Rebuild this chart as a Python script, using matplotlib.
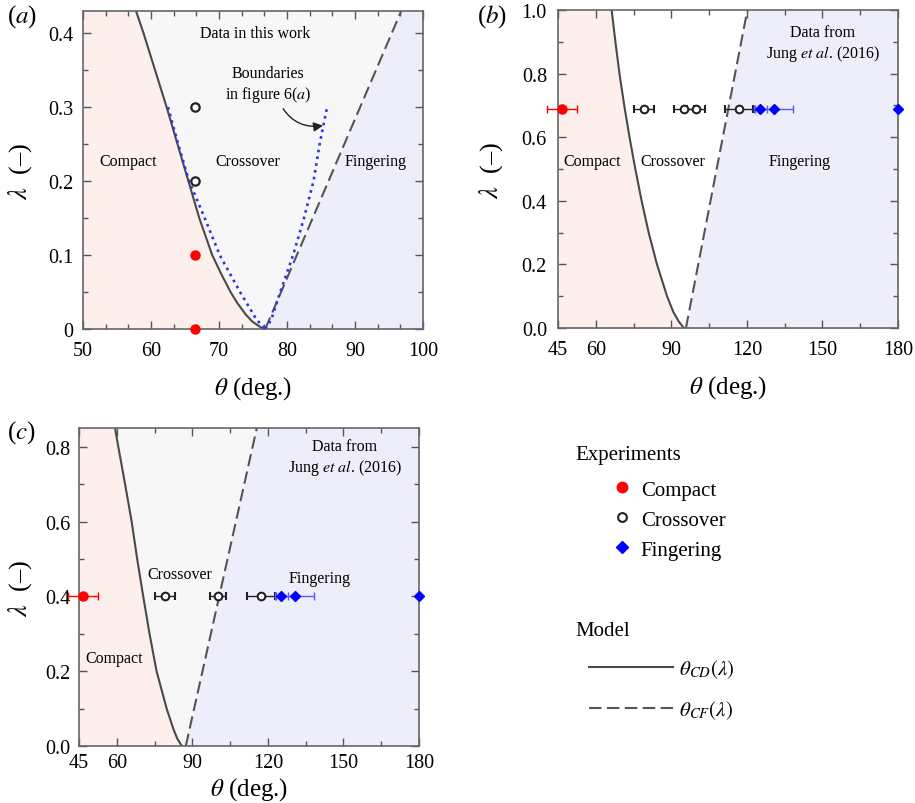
import numpy as np
import matplotlib
matplotlib.use('Agg')
import matplotlib.pyplot as plt
from matplotlib.ticker import MultipleLocator, FixedLocator, FuncFormatter, FormatStrFormatter

plt.rcParams['font.family'] = ['Liberation Serif', 'DejaVu Serif']
plt.rcParams['mathtext.fontset'] = 'stix'

# ---------------- data ----------------
# panel (a): model boundaries (lambda, theta)
a_cd_lam = [0.0, 0.01, 0.02, 0.035, 0.05, 0.075, 0.1, 0.15, 0.2, 0.25, 0.3, 0.35, 0.4, 0.43]
a_cd_theta = [76.5, 74.9, 73.9, 72.7, 71.7, 70.3, 69.0, 67.1, 65.5, 63.9, 62.3, 60.6, 58.9, 57.8]
a_cf_lam = [0.0, 0.43]
a_cf_theta = [76.8, 96.8]
# boundaries in figure 6(a)
a_f6l_lam = [0.3, 0.25, 0.2, 0.15, 0.1, 0.05, 0.013, 0.0]
a_f6l_theta = [62.5, 64.0, 65.6, 67.9, 70.1, 73.1, 75.5, 76.8]
a_f6r_lam = [0.0, 0.013, 0.05, 0.1, 0.15, 0.2, 0.25, 0.3]
a_f6r_theta = [76.8, 77.7, 79.0, 80.9, 82.5, 83.9, 84.8, 85.9]
# panel (a): experiments
a_compact_theta = [66.5, 66.5]
a_compact_lam = [0.0, 0.1]
a_cross_theta = [66.5, 66.5]
a_cross_lam = [0.2, 0.3]

# panel (b): model
b_cd_lam = [0.0, 0.02, 0.05, 0.1, 0.15, 0.2, 0.3, 0.4, 0.5, 0.6, 0.7, 0.8, 0.9, 1.0]
b_cd_theta = [95.0, 93.0, 90.8, 88.3, 86.3, 84.3, 81.0, 78.2, 75.7, 73.4, 71.3, 69.4, 67.8, 66.3]
b_cf_lam = [0.0, 1.0]
b_cf_theta = [95.8, 120.2]
# panel (b): Jung et al. (2016), lambda = 0.69
b_lam = 0.69
b_compact_theta = [46.7]
b_compact_err = [6.0]
b_cross_theta = [79.1, 95.0, 99.8, 117.0]
b_cross_err = [4.0, 4.0, 3.5, 5.5]
b_fing_theta = [125.3, 130.8, 180.0]
b_fing_err = [2.5, 7.7, 0.0]

# panel (c): model
c_cd_lam = [0.0, 0.02, 0.045, 0.1, 0.2, 0.3, 0.4, 0.5, 0.6, 0.7, 0.8, 0.85]
c_cd_theta = [85.8, 84.0, 82.5, 79.8, 75.8, 73.0, 70.5, 68.1, 65.9, 63.3, 60.6, 59.3]
c_cf_lam = [0.0, 0.85]
c_cf_theta = [87.4, 115.6]
# panel (c): Jung et al. (2016), lambda = 0.40
c_lam = 0.40
c_compact_theta = [46.7]
c_compact_err = [6.0]
c_cross_theta = [79.1, 100.3, 117.3]
c_cross_err = [4.0, 3.2, 5.5]
c_fing_theta = [125.3, 130.8, 180.0]
c_fing_err = [2.5, 7.7, 0.0]

# ---------------- style ----------------
PINK = '#fcefec'
LAV = '#eeeefb'
GREY = '#f7f7f7'
LINE = '#4a4a4a'
SPINE = '#666666'
TICKFS = 14.5
XLABFS = 18
YLABFS = 19
TXTFS = 11.5

fig = plt.figure(figsize=(9.15, 8.04), dpi=100)
W, H = 915.0, 804.0


def add_ax(x0, y0, x1, y1):
    return fig.add_axes([x0 / W, 1 - y1 / H, (x1 - x0) / W, (y1 - y0) / H])


axA = add_ax(83, 12, 423, 330)
axB = add_ax(558, 11, 898, 329)
axC = add_ax(79, 429, 419, 747)


def base(ax, xlim, ylim, facecolor, cd_lam, cd_theta, cf_lam, cf_theta):
    ax.set_facecolor(facecolor)
    ax.set_xlim(*xlim)
    ax.set_ylim(*ylim)
    ax.fill_betweenx(cd_lam, xlim[0], cd_theta, color=PINK, lw=0, zorder=0)
    ax.fill_betweenx(cf_lam, cf_theta, xlim[1], color=LAV, lw=0, zorder=0)
    l1, = ax.plot(cd_theta, cd_lam, color=LINE, lw=1.5, zorder=2)
    l2, = ax.plot(cf_theta, cf_lam, color='#555555', lw=1.5, dashes=(6, 2.6), zorder=2)
    for s in ax.spines.values():
        s.set_color(SPINE)
        s.set_linewidth(1.2)
    ax.tick_params(which='both', direction='in', top=True, right=True,
                   color='#555555', width=1.0, labelsize=TICKFS)
    ax.tick_params(which='major', length=6)
    ax.tick_params(which='minor', length=3.5)
    return l1, l2


YLABEL = r'$\lambda$  (–)'
XLABEL = r'$\theta$ (deg.)'

# ---------- panel (a) ----------
cdA, cfA = base(axA, (50, 100), (0, 0.43), GREY, a_cd_lam, a_cd_theta, a_cf_lam, a_cf_theta)
axA.plot(a_f6l_theta, a_f6l_lam, color='#3030ee', lw=1.9, dashes=(1, 1.6), zorder=3)
axA.plot(a_f6r_theta, a_f6r_lam, color='#3030ee', lw=1.9, dashes=(1, 1.6), zorder=3)
axA.plot(a_compact_theta, a_compact_lam, 'o', color='#ff0000', ms=6.5, mec='#ff0000',
         clip_on=False, zorder=4)
axA.plot(a_cross_theta, a_cross_lam, 'o', mfc='white', mec='#222222', mew=1.6, ms=6,
         clip_on=False, zorder=4)
axA.xaxis.set_major_locator(MultipleLocator(10))
axA.xaxis.set_minor_locator(MultipleLocator(10 / 3))
axA.yaxis.set_major_locator(MultipleLocator(0.1))
axA.yaxis.set_minor_locator(MultipleLocator(0.05))
axA.yaxis.set_major_formatter(FuncFormatter(lambda v, p: '0' if abs(v) < 1e-9 else '%.1f' % v))
axA.tick_params(axis='x', pad=9)
axA.tick_params(axis='y', pad=7)
axA.set_xlabel(XLABEL, fontsize=XLABFS, labelpad=9.5)
axA.set_ylabel(YLABEL, fontsize=YLABFS, labelpad=10)
axA.text(75.3, 0.40, 'Data in this work', ha='center', va='center', fontsize=TXTFS)
axA.text(56.6, 0.227, 'Compact', ha='center', va='center', fontsize=TXTFS)
axA.text(74.3, 0.227, 'Crossover', ha='center', va='center', fontsize=TXTFS)
axA.text(93.0, 0.227, 'Fingering', ha='center', va='center', fontsize=TXTFS)
axA.annotate('Boundaries\nin figure 6($a$)', xy=(85.3, 0.275), xytext=(77.2, 0.331),
             ha='center', va='center', fontsize=TXTFS,
             arrowprops=dict(arrowstyle='-|>', connectionstyle='arc3,rad=0.35',
                             color='#222222', lw=1.0, shrinkA=2, shrinkB=0,
                             relpos=(0.64, 0.0), mutation_scale=14))


def jung(ax, lam, comp_t, comp_e, cross_t, cross_e, fing_t, fing_e):
    ebc = ax.errorbar(comp_t, [lam] * len(comp_t), xerr=comp_e, fmt='o', color='#ff0000',
                      ms=6.5, elinewidth=1.0, capsize=3, capthick=1.0, zorder=4)
    ebx = ax.errorbar(cross_t, [lam] * len(cross_t), xerr=cross_e, fmt='o', color='#222222',
                      mfc='white', mec='#222222', mew=1.5, ms=5.5, elinewidth=1.0, capsize=3,
                      capthick=1.0, zorder=4)
    ebf = ax.errorbar(fing_t, [lam] * len(fing_t), xerr=fing_e, fmt='D', color='#0000ff',
                      ms=5.5, elinewidth=1.0, capsize=3, capthick=1.0, zorder=5,
                      ecolor='#5555ff')
    for eb in (ebc, ebx, ebf):
        for art in list(eb.lines[1]) + list(eb.lines[2]):
            art.set_clip_on(False)
        eb.lines[0].set_clip_on(False)
    return ebc, ebx, ebf


# ---------- panel (b) ----------
base(axB, (45, 180), (0, 1.0), 'white', b_cd_lam, b_cd_theta, b_cf_lam, b_cf_theta)
ebc, ebx, ebf = jung(axB, b_lam, b_compact_theta, b_compact_err, b_cross_theta, b_cross_err,
                     b_fing_theta, b_fing_err)
axB.xaxis.set_major_locator(FixedLocator([45, 60, 90, 120, 150, 180]))
axB.xaxis.set_minor_locator(FixedLocator([75, 105, 135, 165]))
axB.yaxis.set_major_locator(MultipleLocator(0.2))
axB.yaxis.set_minor_locator(MultipleLocator(0.1))
axB.yaxis.set_major_formatter(FormatStrFormatter('%.1f'))
axB.tick_params(axis='x', pad=9)
axB.tick_params(axis='y', pad=8)
axB.set_xlabel(XLABEL, fontsize=XLABFS, labelpad=9.5)
axB.set_ylabel(YLABEL, fontsize=YLABFS, labelpad=12)
axB.text(150.2, 0.895, 'Data from\nJung $et$ $al$. (2016)', ha='center', va='center',
         fontsize=TXTFS)
axB.text(58.4, 0.526, 'Compact', ha='center', va='center', fontsize=TXTFS)
axB.text(90.4, 0.526, 'Crossover', ha='center', va='center', fontsize=TXTFS)
axB.text(140.8, 0.526, 'Fingering', ha='center', va='center', fontsize=TXTFS)

# ---------- panel (c) ----------
base(axC, (45, 180), (0, 0.85), GREY, c_cd_lam, c_cd_theta, c_cf_lam, c_cf_theta)
jung(axC, c_lam, c_compact_theta, c_compact_err, c_cross_theta, c_cross_err,
     c_fing_theta, c_fing_err)
axC.xaxis.set_major_locator(FixedLocator([45, 60, 90, 120, 150, 180]))
axC.xaxis.set_minor_locator(FixedLocator([75, 105, 135, 165]))
axC.yaxis.set_major_locator(MultipleLocator(0.2))
axC.yaxis.set_minor_locator(MultipleLocator(0.1))
axC.yaxis.set_major_formatter(FormatStrFormatter('%.1f'))
axC.tick_params(axis='x', pad=5)
axC.tick_params(axis='y', pad=6)
axC.set_xlabel(XLABEL, fontsize=XLABFS, labelpad=2)
axC.set_ylabel(YLABEL, fontsize=YLABFS, labelpad=8)
axC.text(150.6, 0.771, 'Data from\nJung $et$ $al$. (2016)', ha='center', va='center',
         fontsize=TXTFS)
axC.text(85.1, 0.459, 'Crossover', ha='center', va='center', fontsize=TXTFS)
axC.text(140.7, 0.450, 'Fingering', ha='center', va='center', fontsize=TXTFS)
axC.text(58.9, 0.234, 'Compact', ha='center', va='center', fontsize=TXTFS)

# ---------- panel labels ----------
fig.text(7 / W, 1 - 17 / H, '($a$)', fontsize=18, va='center', ha='left')
fig.text(477 / W, 1 - 17 / H, '($b$)', fontsize=18, va='center', ha='left')
fig.text(7 / W, 1 - 433 / H, '($c$)', fontsize=18, va='center', ha='left')

# ---------- legends ----------
LEGFS = 15
fig.text(575 / W, 1 - 456 / H, 'Experiments', fontsize=LEGFS, va='center', ha='left')
leg1 = fig.legend([ebc[0], ebx[0], ebf[0]], ['Compact', 'Crossover', 'Fingering'],
                  loc='upper left', bbox_to_anchor=(612 / W, 1 - 481 / H),
                  bbox_transform=fig.transFigure, frameon=False, fontsize=LEGFS,
                  handlelength=1.0, handletextpad=0.38, borderpad=0, borderaxespad=0,
                  labelspacing=0.5, numpoints=1, markerscale=1.15)
fig.text(575 / W, 1 - 632 / H, 'Model', fontsize=LEGFS, va='center', ha='left')
leg2 = fig.legend([cdA, cfA], [r'$\theta_{CD}(\lambda)$', r'$\theta_{CF}(\lambda)$'],
                  loc='upper left', bbox_to_anchor=(589 / W, 1 - 658 / H),
                  bbox_transform=fig.transFigure, frameon=False, fontsize=LEGFS,
                  handlelength=4.03, handletextpad=0.29, borderpad=0, borderaxespad=0,
                  labelspacing=0.9)

fig.savefig('out.png', dpi=100)
